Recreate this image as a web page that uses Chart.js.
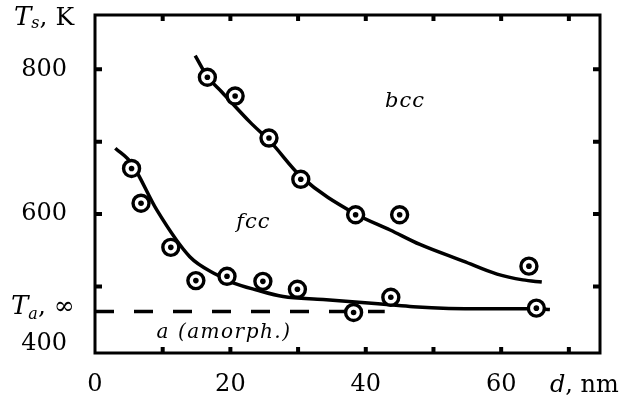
<!DOCTYPE html>
<html><head><meta charset="utf-8">
<script src="https://cdn.jsdelivr.net/npm/chart.js@4/dist/chart.umd.min.js"></script>
<style>html,body{margin:0;padding:0;background:#fff}#wrap{width:623px;height:400px}</style>
</head><body><div id="wrap"><canvas id="c" width="623" height="400"></canvas></div>
<script>
// ---- data ----
const fccD = [5.4, 6.8, 11.2, 14.9, 19.5, 24.8, 29.9, 38.2, 43.7, 65.2];
const fccT = [663, 615, 554, 508, 514, 507, 496, 464, 485, 470];
const bccD = [16.6, 20.7, 25.7, 30.4, 38.5, 45.0, 64.1];
const bccT = [789, 763, 705, 648, 599, 599, 528];
const fccFitD = [3.0, 5.4, 9.1, 14.0, 18.0, 20.4, 23.9, 27.8, 33.7, 43.1, 47.0, 56.9, 65.2, 67.2];
const fccFitT = [691, 670, 606, 541, 516, 505, 495, 486, 482, 475, 472, 469, 469, 468];
const bccFitD = [14.8, 16.6, 18.7, 22.9, 25.9, 30.4, 38.5, 43.6, 48.0, 54.4, 59.4, 63.2, 66.0];
const bccFitT = [819, 790, 769, 727, 700, 652, 600, 578, 558, 535, 517, 509, 506];
const amorphD = [0, 42.8];
const T_A = 465.5;
const amorphT = [T_A, T_A];
const xLabelValues = [0, 20, 40, 60];
const xMinorTicks = [10, 20, 30, 40, 50, 60, 70];
const yLabelValues = [800, 600];
const yMinorTicks = [500, 600, 700, 800];
const Y_MIN = 408, Y_MAX = 875, X_MIN = 0, X_MAX = 74.6;
const phaseLabels = [{text: 'bcc', d: 45.8, t: 748}, {text: 'fcc', d: 23.4, t: 581}];

const pts = (xs, ys) => xs.map((x, i) => ({x, y: ys[i]}));
const SERIF = '"DejaVu Serif", "Liberation Serif", serif';

function rich(ctx, x, y, segs) {
  let cx = x;
  for (const s of segs) {
    ctx.font = s.font;
    ctx.fillText(s.text, cx, y + (s.dy || 0));
    cx += ctx.measureText(s.text).width + (s.gap || 0);
  }
}

const decor = {
  id: 'decor',
  afterDatasetsDraw(chart) {
    const {ctx, chartArea: a, scales: {x, y}} = chart;
    ctx.save();
    ctx.fillStyle = '#000';
    ctx.strokeStyle = '#000';
    // inward tick marks
    ctx.lineWidth = 4;
    ctx.beginPath();
    for (const v of xMinorTicks) {
      const px = x.getPixelForValue(v);
      ctx.moveTo(px, a.bottom); ctx.lineTo(px, a.bottom - 6);
      ctx.moveTo(px, a.top); ctx.lineTo(px, a.top + 6);
    }
    for (const v of yMinorTicks) {
      const py = y.getPixelForValue(v);
      ctx.moveTo(a.left, py); ctx.lineTo(a.left + 7, py);
      ctx.moveTo(a.right, py); ctx.lineTo(a.right - 7, py);
    }
    ctx.stroke();
    // frame
    ctx.lineWidth = 3;
    ctx.strokeRect(a.left, a.top, a.right - a.left, a.bottom - a.top);
    // phase labels
    ctx.textBaseline = 'alphabetic';
    ctx.textAlign = 'center';
    ctx.font = 'italic 21px ' + SERIF;
    ctx.letterSpacing = '1px';
    for (const p of phaseLabels) {
      ctx.fillText(p.text, x.getPixelForValue(p.d), y.getPixelForValue(p.t));
    }
    ctx.textAlign = 'left';
    ctx.letterSpacing = '1.5px';
    ctx.font = 'italic 20px ' + SERIF;
    ctx.fillText('a (amorph.)', x.getPixelForValue(9.1), 338);
    ctx.letterSpacing = '0px';
    // axis titles
    rich(ctx, 14, 25, [
      {text: 'T', font: 'italic 26px ' + SERIF},
      {text: 's', font: 'italic 16px ' + SERIF, dy: 3},
      {text: ', K', font: '25px ' + SERIF}
    ]);
    const ty = y.getPixelForValue(T_A);
    rich(ctx, 11, ty + 3, [
      {text: 'T', font: 'italic 26px ' + SERIF},
      {text: 'a', font: 'italic 16px ' + SERIF, dy: 5},
      {text: ', \u221E', font: '25px ' + SERIF}
    ]);
    rich(ctx, 550, 392, [
      {text: 'd', font: 'italic 24px ' + SERIF},
      {text: ', nm', font: '24px ' + SERIF}
    ]);
    ctx.restore();
  }
};

new Chart(document.getElementById('c'), {
  type: 'scatter',
  data: {
    datasets: [
      {data: pts(fccD, fccT), pointRadius: 2.8, pointBackgroundColor: '#000', pointBorderWidth: 0, order: 1},
      {data: pts(bccD, bccT), pointRadius: 2.8, pointBackgroundColor: '#000', pointBorderWidth: 0, order: 1},
      {data: pts(fccD, fccT), pointRadius: 8, pointBackgroundColor: '#fff', pointBorderColor: '#000', pointBorderWidth: 3.4, order: 2},
      {data: pts(bccD, bccT), pointRadius: 8, pointBackgroundColor: '#fff', pointBorderColor: '#000', pointBorderWidth: 3.4, order: 2},
      {data: pts(fccFitD, fccFitT), showLine: true, pointRadius: 0, borderColor: '#000', borderWidth: 3.5, cubicInterpolationMode: 'monotone', order: 5},
      {data: pts(bccFitD, bccFitT), showLine: true, pointRadius: 0, borderColor: '#000', borderWidth: 3.5, cubicInterpolationMode: 'monotone', order: 5},
      {data: pts(amorphD, amorphT), showLine: true, pointRadius: 0, borderColor: '#000', borderWidth: 3.5, borderDash: [19, 20], order: 6}
    ]
  },
  options: {
    responsive: false,
    animation: false,
    devicePixelRatio: 1,
    layout: {padding: {top: 15, right: 23, left: 0, bottom: 0}},
    plugins: {legend: {display: false}, tooltip: {enabled: false}},
    scales: {
      x: {
        type: 'linear', position: 'bottom', min: X_MIN, max: X_MAX,
        grid: {display: false, drawTicks: false},
        border: {display: false},
        afterBuildTicks: s => { s.ticks = xLabelValues.map(v => ({value: v})); },
        afterFit: s => { s.height = 47; s.paddingLeft = 0; s.paddingRight = 0; },
        ticks: {color: '#000', padding: 17, font: {family: SERIF, size: 24}, maxRotation: 0, autoSkip: false,
                callback: v => String(v)}
      },
      y: {
        type: 'linear', min: Y_MIN, max: Y_MAX,
        grid: {display: false, drawTicks: false},
        border: {display: false},
        afterBuildTicks: s => { s.ticks = [...yLabelValues, Y_MIN].map(v => ({value: v})); },
        afterFit: s => { s.width = 95; s.paddingTop = 0; s.paddingBottom = 0; },
        ticks: {color: '#000', padding: 28, crossAlign: 'center', autoSkip: false,
                font: {family: SERIF, size: 24, lineHeight: 0.8},
                callback: v => v === Y_MIN ? ['400', ''] : String(v)}
      }
    }
  },
  plugins: [decor]
});
</script>
</body></html>
